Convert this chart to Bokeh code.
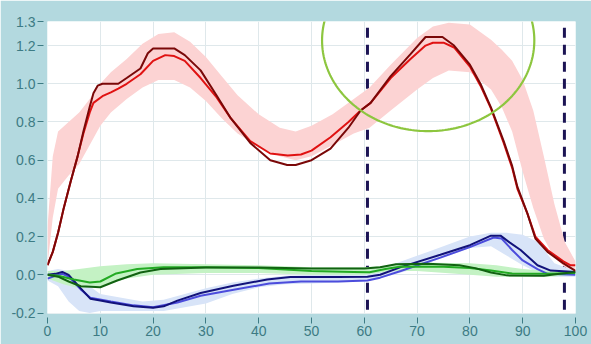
import numpy as np
from bokeh.plotting import figure
from bokeh.models import (FixedTicker, PrintfTickFormatter, PolyAnnotation, Whisker,
                          ColumnDataSource)
from bokeh.embed import file_html
from bokeh.resources import INLINE

# ---------------- data ----------------
# dark red curve
darkred_x = [0, 1, 2, 3, 4.4, 5.7, 6.8, 8, 8.7, 9.5, 10.4, 13.4, 15, 17.6, 19, 20, 24, 26, 29, 32,
             34.7, 38.4, 42.2, 45.4, 47, 50, 53.6, 57, 59.3, 61.2, 65, 68.75, 71.6, 74.8, 77, 80,
             82, 84, 86.4, 88, 89, 90.9, 92.4, 94.7, 97.7, 100]
darkred_y = [0.05, 0.12, 0.22, 0.34, 0.49, 0.62, 0.75, 0.88, 0.95, 0.99, 1.0, 1.0, 1.03, 1.08, 1.16,
             1.185, 1.185, 1.15, 1.07, 0.94, 0.82, 0.69, 0.60, 0.575, 0.575, 0.6, 0.66, 0.77, 0.86,
             0.90, 1.04, 1.155, 1.245, 1.245, 1.20, 1.10, 1.00, 0.875, 0.70, 0.57, 0.46, 0.32, 0.19,
             0.12, 0.06, 0.02]
# red curve
red_x = [0, 1, 2, 3, 4.4, 5.7, 6.8, 8, 8.7, 10.4, 12, 13.4, 15, 17.6, 20, 22.3, 24, 26, 29, 32, 34.7,
         38.4, 42.2, 45.5, 48, 50, 53.6, 57, 59.3, 61.2, 65, 68.75, 71.6, 73, 75, 77, 80, 82, 84,
         86.4, 88, 89, 90.9, 92.4, 94.7, 97.7, 99, 100]
red_y = [0.05, 0.12, 0.22, 0.34, 0.49, 0.62, 0.74, 0.85, 0.90, 0.935, 0.955, 0.975, 1.0, 1.05, 1.12,
         1.15, 1.145, 1.12, 1.03, 0.93, 0.82, 0.70, 0.635, 0.625, 0.63, 0.65, 0.72, 0.80, 0.86,
         0.90, 1.03, 1.13, 1.20, 1.215, 1.215, 1.19, 1.09, 0.99, 0.87, 0.69, 0.56, 0.45, 0.32,
         0.20, 0.13, 0.07, 0.05, 0.05]
# pink normal band
pink_x = [0, 1, 2, 4, 6, 8, 10, 12, 15, 18, 21, 24, 27, 30, 33, 36, 40, 44, 47, 50, 54, 58, 61, 65,
          70, 73, 76, 80, 84, 86, 88, 90, 92, 94, 96, 98, 100]
pink_lo = [0.05, 0.3, 0.45, 0.52, 0.58, 0.68, 0.78, 0.85, 0.92, 0.98, 1.02, 1.02, 0.98, 0.91, 0.82,
           0.74, 0.67, 0.62, 0.60, 0.62, 0.68, 0.74, 0.77, 0.86, 0.97, 1.03, 1.07, 1.06, 0.97,
           0.88, 0.75, 0.54, 0.35, 0.19, 0.09, 0.04, 0.02]
pink_hi = [0.25, 0.62, 0.75, 0.80, 0.85, 0.92, 1.0, 1.06, 1.13, 1.21, 1.26, 1.27, 1.22, 1.14, 1.04,
           0.94, 0.84, 0.77, 0.75, 0.78, 0.84, 0.92, 0.98, 1.10, 1.24, 1.30, 1.32, 1.31, 1.23,
           1.18, 1.12, 1.02, 0.86, 0.62, 0.37, 0.17, 0.07]
# navy curve
navy_x = [0, 1.5, 2.8, 4, 6.25, 8.1, 10, 12, 16.3, 20, 22, 24.6, 29, 35.2, 41.6, 46, 55, 60.6, 63,
          66.9, 74.4, 80, 84, 85.8, 87.5, 89.6, 92.8, 95.3, 100]
navy_y = [0.0, 0.005, 0.015, 0.0, -0.07, -0.125, -0.135, -0.145, -0.165, -0.173, -0.165, -0.135,
          -0.095, -0.057, -0.025, -0.012, -0.012, -0.01, 0.0, 0.04, 0.105, 0.155, 0.205, 0.205,
          0.17, 0.13, 0.05, 0.022, 0.015]
# medium blue curve
blue_x = [0, 1.5, 2.8, 4, 6.25, 8.1, 12, 16.3, 20, 24.6, 29, 35, 42, 48, 55, 60.6, 63, 66.9, 74.4,
          80, 84.5, 86, 88, 90, 92.8, 94.7, 100]
blue_y = [-0.02, -0.005, 0.005, -0.01, -0.075, -0.12, -0.14, -0.16, -0.17, -0.145, -0.11, -0.08,
          -0.045, -0.035, -0.035, -0.03, -0.015, 0.02, 0.09, 0.145, 0.195, 0.19, 0.13, 0.075, 0.03,
          0.005, 0.0]
# light blue band
lblue_x = [0, 2, 4, 6, 8, 10, 14, 18, 22, 26, 30, 35, 40, 45, 50, 55, 60, 64, 68, 72, 76, 80, 84,
           87, 90, 93, 96, 100]
lblue_lo = [-0.03, -0.06, -0.14, -0.19, -0.2, -0.19, -0.19, -0.19, -0.19, -0.17, -0.15, -0.1,
            -0.065, -0.05, -0.045, -0.04, -0.035, -0.01, 0.02, 0.06, 0.1, 0.14, 0.15, 0.1, 0.05,
            0.01, -0.01, -0.01]
lblue_hi = [0.02, 0.03, 0.02, -0.02, -0.06, -0.1, -0.12, -0.14, -0.13, -0.1, -0.07, -0.04, -0.02,
            -0.005, 0.0, 0.005, 0.01, 0.04, 0.08, 0.12, 0.16, 0.2, 0.22, 0.22, 0.21, 0.17, 0.06,
            0.02]
# dark green curve
dgreen_x = [0, 2, 4, 6.3, 10, 13.2, 17.6, 21.4, 30, 40, 50, 60, 63, 66, 72, 78, 81, 84, 87, 94, 97,
            100]
dgreen_y = [0.0, -0.01, -0.035, -0.06, -0.065, -0.03, 0.012, 0.03, 0.038, 0.038, 0.033, 0.033,
            0.04, 0.055, 0.058, 0.05, 0.035, 0.012, -0.003, -0.005, 0.005, 0.015]
# green curve
green_x = [0, 2, 5, 8, 10, 13, 17, 22, 30, 40, 50, 58, 61, 64, 67, 75, 80, 84, 88, 95, 100]
green_y = [0.0, -0.005, -0.025, -0.04, -0.035, 0.007, 0.03, 0.04, 0.04, 0.035, 0.02, 0.015, 0.013,
           0.03, 0.043, 0.042, 0.035, 0.022, 0.007, 0.005, 0.01]
# light green band
lgreen_x = [0, 3, 6, 10, 15, 20, 30, 40, 50, 60, 65, 70, 80, 85, 90, 95, 100]
lgreen_lo = [-0.02, -0.05, -0.07, -0.06, -0.02, 0.0, 0.01, 0.01, 0.0, 0.0, 0.02, 0.02, 0.0, -0.01,
             -0.01, -0.01, 0.0]
lgreen_hi = [0.02, 0.02, 0.03, 0.045, 0.055, 0.06, 0.055, 0.05, 0.04, 0.04, 0.05, 0.065, 0.06,
             0.05, 0.03, 0.02, 0.02]

event_x = [60.6, 97.9]          # dashed event markers
x_ticks = [0, 10, 20, 30, 40, 50, 60, 70, 80, 90, 100]
y_ticks = [-0.2, 0.0, 0.2, 0.4, 0.6, 0.8, 1.0, 1.2, 1.326]
y_grid = [-0.2, 0.0, 0.2, 0.4, 0.6, 0.8, 1.0, 1.2]
circle_center = (72.1, 1.227)
circle_radii = (20.1, 0.475)

# ---------------- style ----------------
PANEL = "#b3d9df"
LABEL = "#3d7b84"
W, H = 591, 344

p = figure(width=W, height=H, x_range=(0, 100), y_range=(-0.2026, 1.326),
           output_backend="svg", toolbar_location=None,
           min_border_left=47, min_border_right=16, min_border_top=21, min_border_bottom=31,
           border_fill_color=PANEL, background_fill_color="white", outline_line_color=None)

for ax in (p.xaxis[0], p.yaxis[0]):
    ax.axis_line_color = None
    ax.major_tick_line_color = LABEL
    ax.minor_tick_line_color = None
    ax.major_label_text_color = LABEL
    ax.major_label_text_font = "Liberation Sans"
    ax.major_label_text_font_size = "14px"

p.xaxis.ticker = FixedTicker(ticks=x_ticks)
p.xaxis.major_tick_in = -4
p.xaxis.major_tick_out = 10
p.xaxis.major_label_standoff = 2

p.yaxis.ticker = FixedTicker(ticks=y_ticks)
p.yaxis.formatter = PrintfTickFormatter(format="%.1f")
p.yaxis.major_tick_in = -4
p.yaxis.major_tick_out = 10
p.yaxis.major_label_standoff = 2

p.xgrid.ticker = FixedTicker(ticks=x_ticks)
p.ygrid.ticker = FixedTicker(ticks=y_grid)
p.grid.grid_line_color = "#dfe8eb"

# bands
p.varea(x=pink_x, y1=pink_lo, y2=pink_hi, fill_color="#fcd3d3")
p.varea(x=lblue_x, y1=lblue_lo, y2=lblue_hi, fill_color="#d8e4f8")
p.varea(x=lgreen_x, y1=lgreen_lo, y2=lgreen_hi, fill_color="#c4f2c4")

# curves
p.line(blue_x, blue_y, line_color="#4c4cdc", line_width=2)
p.line(navy_x, navy_y, line_color="#12127a", line_width=2)
p.line(green_x, green_y, line_color="#22aa22", line_width=2)
p.line(dgreen_x, dgreen_y, line_color="#116211", line_width=2)
p.line(red_x, red_y, line_color="#e01212", line_width=2)
p.line(darkred_x, darkred_y, line_color="#7a0808", line_width=2)

# dashed event lines (extend beyond the frame)
ev = ColumnDataSource(dict(base=event_x, lower=[-0.45] * len(event_x), upper=[1.5] * len(event_x)))
p.add_layout(Whisker(source=ev, base="base", lower="lower", upper="upper", dimension="height",
                     lower_head=None, upper_head=None, line_color="#1c1454", line_width=3,
                     line_dash="10 7"))

# green highlight circle
t = np.linspace(0, 2 * np.pi, 241)
cx, cy = circle_center
rx, ry = circle_radii
p.add_layout(PolyAnnotation(xs=list(cx + rx * np.cos(t)), ys=list(cy + ry * np.sin(t)),
                            fill_color=None, fill_alpha=0, line_color="#8dc63f", line_alpha=1,
                            line_width=2.2))

open("out.html", "w").write(file_html(p, INLINE))
